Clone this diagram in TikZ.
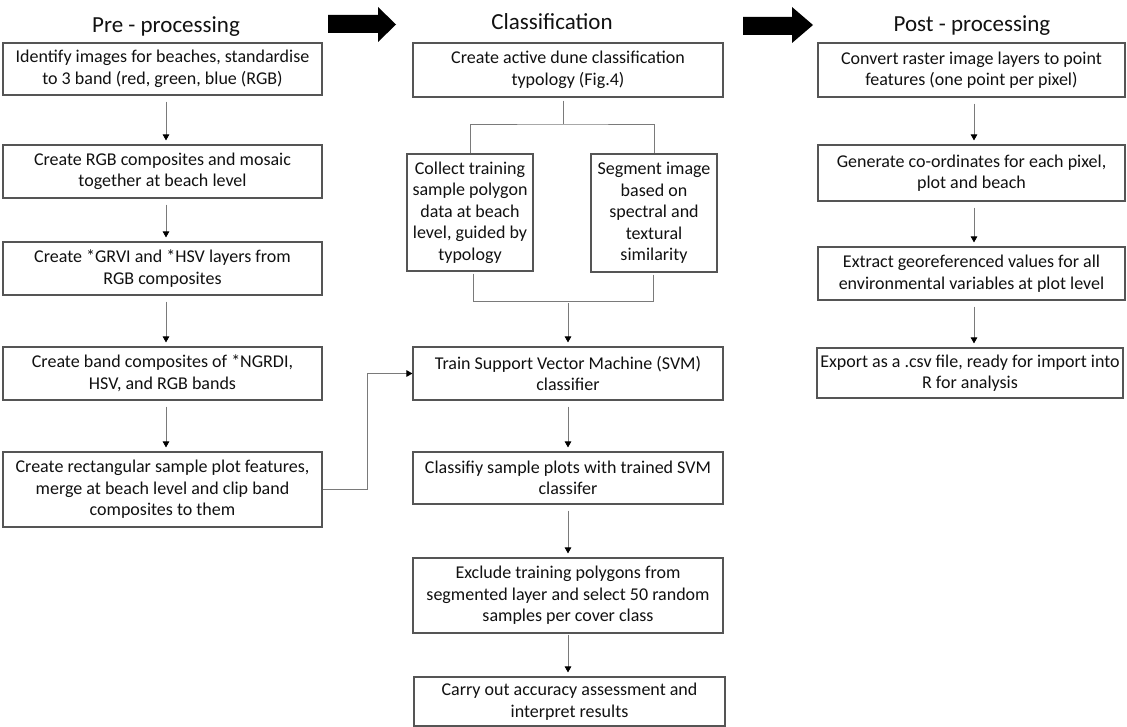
\documentclass[tikz,border=0pt]{standalone}
\usepackage{fontspec}
\setmainfont{Carlito}
\usetikzlibrary{arrows.meta}
\definecolor{edge}{HTML}{555555}
\definecolor{wirec}{HTML}{7A7A7A}
\definecolor{ink}{HTML}{111111}
\tikzset{
  stepbox/.style={draw=edge, line width=1.1pt, fill=white, text=ink, align=center,
    inner sep=0pt, font=\fontsize{18}{21.5}\selectfont},
  flow/.style={draw=wirec, line width=0.9pt,
    -{Triangle[width=6.5pt,length=6pt,color=black]}, shorten <=6pt, shorten >=4pt},
  wire/.style={draw=wirec, line width=0.9pt},
  heading/.style={font=\fontsize{23}{27}\selectfont, text=ink, anchor=base, inner sep=0pt},
  bigarrow/.style={fill=black}
}
\begin{document}
\begin{tikzpicture}[x=1pt,y=-1pt]
\useasboundingbox (0,0) rectangle (1127,727);

% column headings
\node[heading] (h1) at (166,33) {Pre - processing};
\node[heading] (h2) at (552,30) {Classification};
\node[heading] (h3) at (972,32) {Post - processing};

% block arrows between the stages
\fill[bigarrow] (328,15) -- (378,15) -- (378,7) -- (396,24.5) -- (378,42) -- (378,33) -- (328,33) -- cycle;
\fill[bigarrow] (743,17) -- (792,17) -- (792,7) -- (813,25) -- (792,43) -- (792,35) -- (743,35) -- cycle;

% pre-processing column
\node[stepbox, minimum width=319, minimum height=52] (L1) at (162.5,69)
  {Identify images for beaches, standardise\\to 3 band (red, green, blue (RGB)};
\node[stepbox, minimum width=319, minimum height=53] (L2) at (162.5,171.5)
  {Create RGB composites and mosaic\\together at beach level};
\node[stepbox, minimum width=319, minimum height=53] (L3) at (162.5,268.5)
  {Create *GRVI and *HSV layers from\\RGB composites};
\node[stepbox, minimum width=319, minimum height=53] (L4) at (162.5,373.5)
  {Create band composites of *NGRDI,\\HSV, and RGB bands};
\node[stepbox, minimum width=319, minimum height=75] (L5) at (162.5,489.5)
  {Create rectangular sample plot features,\\merge at beach level and clip band\\composites to them};

% classification column
\node[stepbox, minimum width=310, minimum height=54] (M1) at (568,70)
  {Create active dune classification\\typology (Fig.4)};
\node[stepbox, minimum width=126, minimum height=117] (Ma) at (470,212.5)
  {Collect training\\sample polygon\\data at beach\\level, guided by\\typology};
\node[stepbox, minimum width=126, minimum height=118] (Mb) at (654,213)
  {Segment image\\based on\\spectral and\\textural\\similarity};
\node[stepbox, minimum width=310, minimum height=53] (M2) at (568,373.5)
  {Train Support Vector Machine (SVM)\\classifier};
\node[stepbox, minimum width=310, minimum height=52] (M3) at (568,478)
  {Classifiy sample plots with trained SVM\\classifer};
\node[stepbox, minimum width=310, minimum height=75] (M4) at (568,595.5)
  {Exclude training polygons from\\segmented layer and select 50 random\\samples per cover class};
\node[stepbox, minimum width=311, minimum height=49] (M5) at (569.5,701.5)
  {Carry out accuracy assessment and\\interpret results};

% post-processing column
\node[stepbox, minimum width=307, minimum height=54] (R1) at (971.5,70)
  {Convert raster image layers to point\\features (one point per pixel)};
\node[stepbox, minimum width=307, minimum height=56] (R2) at (971.5,173)
  {Generate co-ordinates for each pixel,\\plot and beach};
\node[stepbox, minimum width=307, minimum height=53] (R3) at (971.5,273.5)
  {Extract georeferenced values for all\\environmental variables at plot level};
\node[stepbox, minimum width=306, minimum height=50] (R4) at (970,373)
  {Export as a .csv file, ready for import into\\R for analysis};

% pre-processing flow
\draw[flow] ([xshift=3.5]L1.south) -- ([xshift=3.5]L1.south |- L2.north);
\draw[flow] ([xshift=3.5]L2.south) -- ([xshift=3.5]L2.south |- L3.north);
\draw[flow] ([xshift=3.5]L3.south) -- ([xshift=3.5]L3.south |- L4.north);
\draw[flow] ([xshift=3.5]L4.south) -- ([xshift=3.5]L4.south |- L5.north);

% classification flow: split into two parallel tasks, then merge
\coordinate (fork) at (563,124);
\coordinate (merge) at (568,301);
\draw[wire, shorten <=3pt] ([xshift=-5]M1.south) -- (fork);
\draw[wire] (Ma.north) |- (fork) -| (Mb.north);
\draw[wire, shorten <=2pt] ([xshift=3]Ma.south) |- (merge);
\draw[wire, shorten <=2pt] ([xshift=-1]Mb.south) |- (merge);
\draw[flow, shorten <=2pt] (merge) -- (M2.north);
\draw[flow] (M2.south) -- (M3.north);
\draw[flow] (M3.south) -- (M4.north);
\draw[flow, shorten <=1pt] (M4.south) -- (M4.south |- M5.north);

% sample plots feed the classifier
\coordinate (elbow) at (367,373.5);
\draw[flow, shorten <=0pt, shorten >=0pt] (L5.east) -| (elbow) -- (M2.west);

% post-processing flow
\draw[flow] ([xshift=2.5]R1.south) -- ([xshift=2.5]R1.south |- R2.north);
\draw[flow] ([xshift=2.5]R2.south) -- ([xshift=2.5]R2.south |- R3.north);
\draw[flow] ([xshift=2.5]R3.south) -- ([xshift=2.5]R3.south |- R4.north);
\end{tikzpicture}
\end{document}
